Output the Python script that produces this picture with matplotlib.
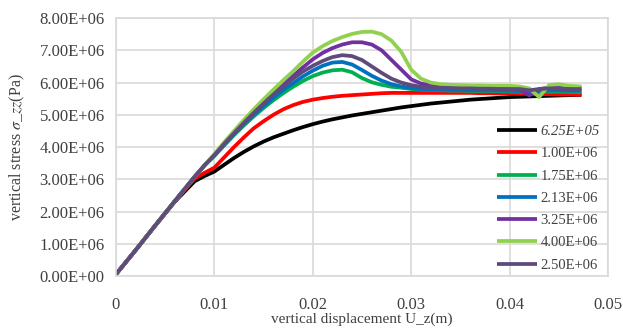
import matplotlib.pyplot as plt
from matplotlib.ticker import FuncFormatter

plt.rcParams['font.family'] = ['Liberation Serif', 'DejaVu Serif']
plt.rcParams['mathtext.fontset'] = 'stix'

# displacement U_z (m)
disp = [0, 0.002, 0.004, 0.006, 0.008, 0.009,
        0.010, 0.011, 0.012, 0.013, 0.014, 0.015, 0.016, 0.017, 0.018, 0.019,
        0.020, 0.021, 0.022, 0.023, 0.024, 0.025, 0.026, 0.027, 0.028, 0.029,
        0.030, 0.031, 0.032, 0.033, 0.034, 0.035, 0.036, 0.037, 0.038, 0.039,
        0.040, 0.041, 0.042, 0.043, 0.044, 0.045, 0.046, 0.0473]

# vertical stress (1E6 Pa)
s_625e5 = [0.05, 0.80, 1.56, 2.31, 2.94, 3.10,
           3.24, 3.45, 3.66, 3.85, 4.02, 4.17, 4.30, 4.41, 4.52, 4.62,
           4.71, 4.79, 4.86, 4.92, 4.98, 5.03, 5.08, 5.13, 5.18, 5.23,
           5.27, 5.31, 5.35, 5.38, 5.41, 5.44, 5.47, 5.49, 5.51, 5.53,
           5.55, 5.56, 5.57, 5.58, 5.59, 5.60, 5.61, 5.62]
s_100e6 = [0.05, 0.80, 1.57, 2.32, 3.02, 3.20,
           3.36, 3.68, 4.00, 4.30, 4.58, 4.80, 5.00, 5.17, 5.30, 5.40,
           5.47, 5.52, 5.56, 5.59, 5.61, 5.63, 5.65, 5.67, 5.68, 5.68,
           5.68, 5.68, 5.68, 5.68, 5.68, 5.68, 5.68, 5.67, 5.67, 5.66,
           5.66, 5.65, 5.65, 5.64, 5.64, 5.63, 5.63, 5.62]
s_175e6 = [0.05, 0.80, 1.57, 2.33, 3.08, 3.43,
           3.72, 4.05, 4.37, 4.67, 4.95, 5.21, 5.45, 5.67, 5.87, 6.05,
           6.20, 6.31, 6.38, 6.40, 6.32, 6.14, 6.01, 5.93, 5.87, 5.84,
           5.80, 5.78, 5.77, 5.76, 5.75, 5.75, 5.74, 5.74, 5.74, 5.73,
           5.73, 5.72, 5.70, 5.71, 5.72, 5.72, 5.71, 5.70]
s_213e6 = [0.05, 0.80, 1.57, 2.33, 3.08, 3.43,
           3.74, 4.08, 4.40, 4.71, 5.00, 5.27, 5.53, 5.77, 5.98, 6.19,
           6.37, 6.52, 6.62, 6.64, 6.56, 6.39, 6.21, 6.06, 5.95, 5.88,
           5.83, 5.80, 5.79, 5.78, 5.77, 5.77, 5.76, 5.76, 5.76, 5.75,
           5.75, 5.74, 5.72, 5.74, 5.76, 5.76, 5.75, 5.75]
s_325e6 = [0.05, 0.80, 1.57, 2.33, 3.08, 3.43,
           3.76, 4.12, 4.47, 4.80, 5.12, 5.42, 5.70, 5.96, 6.21, 6.47,
           6.72, 6.92, 7.07, 7.18, 7.25, 7.25, 7.18, 7.00, 6.70, 6.40,
           6.10, 5.97, 5.92, 5.89, 5.87, 5.85, 5.84, 5.83, 5.82, 5.81,
           5.80, 5.79, 5.60, 5.80, 5.84, 5.85, 5.84, 5.83]
s_400e6 = [0.05, 0.80, 1.57, 2.33, 3.08, 3.43,
           3.78, 4.15, 4.50, 4.84, 5.17, 5.48, 5.78, 6.07, 6.35, 6.65,
           6.93, 7.13, 7.29, 7.41, 7.51, 7.57, 7.58, 7.50, 7.30, 6.95,
           6.40, 6.12, 6.00, 5.95, 5.93, 5.92, 5.91, 5.91, 5.90, 5.90,
           5.90, 5.88, 5.82, 5.55, 5.92, 5.95, 5.90, 5.88]
s_250e6 = [0.05, 0.80, 1.57, 2.33, 3.08, 3.43,
           3.75, 4.10, 4.43, 4.75, 5.06, 5.35, 5.63, 5.88, 6.12, 6.34,
           6.52, 6.67, 6.79, 6.85, 6.82, 6.70, 6.50, 6.30, 6.12, 6.00,
           5.92, 5.87, 5.85, 5.84, 5.83, 5.82, 5.82, 5.81, 5.81, 5.80,
           5.80, 5.80, 5.76, 5.80, 5.82, 5.81, 5.80, 5.80]

labels = ['6.25E+05', '1.00E+06', '1.75E+06', '2.13E+06', '3.25E+06', '4.00E+06', '2.50E+06']
series = [s_625e5, s_100e6, s_175e6, s_213e6, s_325e6, s_400e6, s_250e6]
colors = ['#000000', '#FF0000', '#00B050', '#0070C0', '#7030A0', '#92D050', '#604A7B']

fig = plt.figure(figsize=(6.23, 3.29), dpi=100)
ax = fig.add_axes([0.186, 0.161, 0.790, 0.784])

for s, lab, c in zip(series, labels, colors):
    ax.plot(disp, [v * 1e6 for v in s], color=c, lw=2.7, label=lab, solid_capstyle='butt')

ax.set_xlim(0, 0.05)
ax.set_ylim(0, 8e6)
ax.set_xticks([0, 0.01, 0.02, 0.03, 0.04, 0.05])
ax.set_yticks([i * 1e6 for i in range(9)])
ax.xaxis.set_major_formatter(FuncFormatter(lambda v, p: '0' if v == 0 else '%g' % v))
ax.yaxis.set_major_formatter(FuncFormatter(lambda v, p: '%.2E' % v))
ax.tick_params(length=0, labelsize=12, colors='#404040')
ax.tick_params(axis='x', pad=15)
ax.tick_params(axis='y', pad=8)
ax.grid(True, color='#D9D9D9', lw=1.2)
ax.set_axisbelow(True)
for sp in ax.spines.values():
    sp.set_color('#D9D9D9')
    sp.set_linewidth(1.2)

ax.set_xlabel('vertical displacement U_z(m)', fontsize=11, color='#404040')
ax.xaxis.set_label_coords(0.5, -0.14)
ax.set_ylabel(r'vertical stress $\sigma\_zz$(Pa)', fontsize=11.5, color='#404040')
ax.yaxis.set_label_coords(-0.181, 0.5)

leg = ax.legend(loc='center left', bbox_to_anchor=(0.797, 0.397), bbox_transform=fig.transFigure,
                frameon=False, fontsize=10.5, handlelength=2.8, handletextpad=0.2,
                labelspacing=0.62, borderpad=0, borderaxespad=0)
for t in leg.get_texts():
    t.set_color('#404040')
leg.get_texts()[0].set_style('italic')

fig.savefig('out.png', dpi=100)
